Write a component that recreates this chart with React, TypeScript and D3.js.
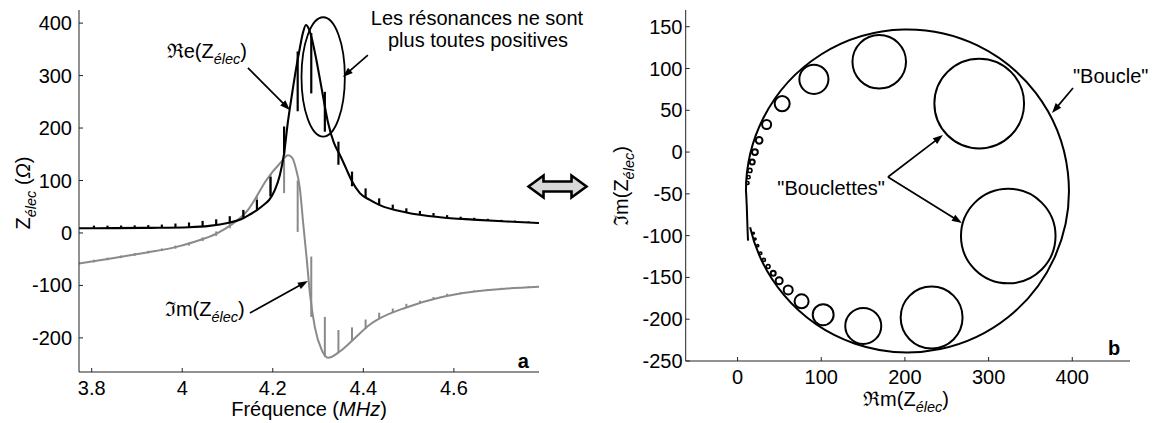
import React from "react";
import * as d3 from "d3";

// ---------- Panel a : impedance vs frequency ----------
const reFreq = [3.772, 3.85, 3.93, 4.015, 4.06, 4.103, 4.13, 4.147, 4.172, 4.2047, 4.2157, 4.2245, 4.2334, 4.2422, 4.251, 4.2598, 4.2665, 4.2731, 4.2797, 4.2863, 4.2951, 4.3084, 4.3216, 4.3349, 4.3481, 4.3614, 4.3746, 4.3923, 4.4143, 4.4364, 4.495, 4.569, 4.642, 4.716, 4.788];
const reValue = [9, 9.3, 9.8, 11, 13.5, 19.6, 26, 34, 48, 82, 110.6, 148.7, 211.6, 263, 311, 352.7, 381, 396.5, 389, 370, 335, 273, 212, 172, 149, 124, 99, 76, 63, 53, 39, 30, 25.5, 22, 19];

const imFreq = [3.772, 3.846, 3.919, 3.985, 4.044, 4.077, 4.107, 4.147, 4.157, 4.186, 4.216, 4.234, 4.243, 4.251, 4.2598, 4.267, 4.275, 4.282, 4.293, 4.308, 4.322, 4.348, 4.377, 4.414, 4.436, 4.495, 4.569, 4.642, 4.716, 4.788];
const imValue = [-58, -48, -37.5, -27, -12, -0.6, 15, 46, 59, 101, 133, 148, 143, 123, 85, 20, -50, -115, -180, -223, -238, -226, -204, -175, -163, -142, -123, -112, -106, -102.5];

// spurious resonances (narrow spikes)
const spikeFreq = [3.805, 3.835, 3.865, 3.895, 3.925, 3.955, 3.985, 4.015, 4.045, 4.075, 4.105, 4.135, 4.165, 4.195, 4.225, 4.255, 4.285, 4.315, 4.345, 4.375, 4.405, 4.435, 4.465, 4.495, 4.525, 4.555, 4.585, 4.615, 4.645, 4.675, 4.705, 4.735, 4.765];
const reSpikeLo = [9, 9, 9.2, 9.5, 9.6, 10, 10.3, 11, 12.3, 14.5, 19.5, 29, 44, 70, 148, 232, 266, 193, 130, 89, 68, 53, 46, 40, 36, 32.5, 29.5, 27.5, 25.5, 24, 22.5, 21, 20];
const reSpikeHi = [14, 14, 14.2, 14.5, 15, 16, 18, 20, 23, 26, 32, 44, 63, 107, 203, 346, 381, 269, 174, 117, 85, 66, 54, 47, 42, 38, 34, 31, 29, 27, 25, 23.5, 22];
const imSpikeLo = [-56, -52, -48, -43.5, -39, -34.5, -30, -24, -15.5, -5.5, 9, 29, 52, 69, 76, 2, -160, -236, -228, -206, -183, -164, -152, -142, -134, -127, -120, -116, -112, -109, -106.5, -104.5, -103];
const imSpikeHi = [-51, -47, -43, -38.5, -34, -29.5, -24, -18, -8.5, 3, 20, 42, 72, 112, 140, 100, -45, -160, -185, -180, -165, -152, -144, -135, -129, -122, -116, -113, -109.5, -107, -104.5, -103, -101.5];

const xTicksA = [3.8, 4, 4.2, 4.4, 4.6];
const xTickLabelsA = ["3.8", "4", "4.2", "4.4", "4.6"];
const yTicksA = [-200, -100, 0, 100, 200, 300, 400];

// ---------- Panel b : Nyquist plot ----------
const loopCenter = [203, -46.5];
const loopRadius = 193;
const loopStartDeg = 180;
const loopEndDeg = -167;
const loopTailRe = [12.5, 12, 11.5, 11, 10.3];
const loopTailIm = [-106, -95, -80, -65, -50];

const loopletRe = [169.3, 91.2, 53.3, 34.7, 25.8, 20.7, 17.5, 14.7, 13, 12, 288.8, 323.5, 231.9, 150.2, 102.3, 76.5, 60.5, 49.7, 42.6, 36.5, 31.5, 27.5, 24, 21, 19];
const loopletIm = [108, 87, 58, 33, 14, 0, -12, -22, -30, -37, 58, -100.5, -198, -208, -194.6, -178.6, -165, -154, -145, -137, -129, -121, -112, -104, -97];
const loopletR = [32, 17.4, 9, 5.4, 4, 3.5, 3, 2.5, 2, 1.7, 53.6, 56.5, 37, 21.5, 12.5, 8.4, 5.4, 4.2, 3, 2.3, 1.8, 1.5, 1.3, 1.1, 1];

const xTicksB = [0, 100, 200, 300, 400];
const yTicksB = [-250, -200, -150, -100, -50, 0, 50, 100, 150];

const FONT = "'Liberation Sans', Arial, Helvetica, sans-serif";
const FS = 20;
const SUB = 14.5;

function Arrow({ x1, y1, x2, y2 }: { x1: number; y1: number; x2: number; y2: number }) {
  const dx = x2 - x1, dy = y2 - y1;
  const L = Math.hypot(dx, dy);
  const ux = dx / L, uy = dy / L;
  const hl = 10, hw = 3.6;
  const bx = x2 - ux * hl, by = y2 - uy * hl;
  const pts = [
    [x2, y2],
    [bx - uy * hw, by + ux * hw],
    [bx + uy * hw, by - ux * hw],
  ];
  return (
    <g>
      <line x1={x1} y1={y1} x2={bx + ux * 2} y2={by + uy * 2} stroke="#000" strokeWidth={1.7} />
      <polygon points={pts.map((p) => p.join(",")).join(" ")} fill="#000" />
    </g>
  );
}

function Zelec({ pre, post = ")" }: { pre: string; post?: string }) {
  return (
    <>
      <tspan>{pre}</tspan>
      <tspan fontStyle="italic" fontSize={SUB} dy={6}>élec</tspan>
      <tspan dy={-6}>{post}</tspan>
    </>
  );
}

export default function App() {
  // scales panel a
  const xA = d3.scaleLinear().domain([3.772, 4.788]).range([79, 539]);
  const yA = d3.scaleLinear().domain([-265, 425]).range([372, 10]);
  // scales panel b
  const xB = d3.scaleLinear().domain([-62, 469]).range([685.7, 1130]);
  const yB = d3.scaleLinear().domain([-250, 170]).range([361, 10]);

  const lineA = d3
    .line<[number, number]>()
    .x((d) => xA(d[0]))
    .y((d) => yA(d[1]))
    .curve(d3.curveMonotoneX);

  const reData = reFreq.map((f, i) => [f, reValue[i]] as [number, number]);
  const imData = imFreq.map((f, i) => [f, imValue[i]] as [number, number]);

  // Nyquist main loop
  const p = d3.path();
  loopTailRe.forEach((r, i) => {
    if (i === 0) p.moveTo(xB(r), yB(loopTailIm[i]));
    else p.lineTo(xB(r), yB(loopTailIm[i]));
  });
  const rPx = xB(loopRadius) - xB(0);
  p.arc(
    xB(loopCenter[0]),
    yB(loopCenter[1]),
    rPx,
    (-loopStartDeg * Math.PI) / 180,
    (-loopEndDeg * Math.PI) / 180,
    false
  );

  const axisCol = "#222";
  const grayCol = "#8a8a8a";

  return (
    <svg
      width={1156}
      height={423}
      style={{ position: "absolute", left: 0, top: 0, background: "#fff" }}
      fontFamily={FONT}
    >
      <rect width={1156} height={423} fill="#fff" />

      {/* ---------------- Panel a ---------------- */}
      <path d={lineA(imData) || ""} fill="none" stroke={grayCol} strokeWidth={2} />
      {spikeFreq.map((f, i) => (
        <line key={"is" + i} x1={xA(f)} x2={xA(f)} y1={yA(imSpikeLo[i])} y2={yA(imSpikeHi[i])} stroke={grayCol} strokeWidth={2} />
      ))}
      <path d={lineA(reData) || ""} fill="none" stroke="#000" strokeWidth={2.1} />
      {spikeFreq.map((f, i) => (
        <line key={"rs" + i} x1={xA(f)} x2={xA(f)} y1={yA(reSpikeLo[i])} y2={yA(reSpikeHi[i])} stroke="#000" strokeWidth={2.2} />
      ))}

      {/* axes a */}
      <line x1={xA.range()[0]} x2={xA.range()[0]} y1={yA.range()[1]} y2={yA.range()[0]} stroke={axisCol} strokeWidth={1} />
      <line x1={xA.range()[0]} x2={xA.range()[1]} y1={yA.range()[0]} y2={yA.range()[0]} stroke={axisCol} strokeWidth={1} />
      {xTicksA.map((t, i) => (
        <g key={"xa" + i}>
          <line x1={xA(t)} x2={xA(t)} y1={yA.range()[0]} y2={yA.range()[0] - 4} stroke={axisCol} />
          <text x={xA(t)} y={395} fontSize={FS} textAnchor="middle">{xTickLabelsA[i]}</text>
        </g>
      ))}
      {yTicksA.map((t) => (
        <g key={"ya" + t}>
          <line x1={xA.range()[0]} x2={xA.range()[0] + 4} y1={yA(t)} y2={yA(t)} stroke={axisCol} />
          <text x={72} y={yA(t) + 7} fontSize={FS} textAnchor="end">{t}</text>
        </g>
      ))}
      <text x={309} y={416} fontSize={FS} textAnchor="middle">
        Fréquence (<tspan fontStyle="italic">MHz</tspan>)
      </text>
      <text transform="translate(30,193) rotate(-90)" fontSize={FS} textAnchor="middle">
        <tspan>Z</tspan>
        <tspan fontStyle="italic" fontSize={SUB} dy={6}>élec</tspan>
        <tspan dy={-6}> (</tspan>
        <tspan fontStyle="italic">Ω</tspan>
        <tspan>)</tspan>
      </text>
      <text x={xA(4.741)} y={yA(-257)} fontSize={FS} fontWeight="bold">a</text>

      {/* annotations a */}
      <text x={xA(3.9656)} y={yA(333)} fontSize={FS}>
        <Zelec pre="ℜe(Z" />
      </text>
      <Arrow x1={xA(4.1451)} y1={yA(314.5)} x2={xA(4.2378)} y2={yA(234.5)} />
      <text x={xA(3.9618)} y={yA(-159)} fontSize={FS}>
        <Zelec pre="ℑm(Z" />
      </text>
      <Arrow x1={xA(4.1495)} y1={yA(-152.5)} x2={xA(4.2775)} y2={yA(-91.5)} />
      <ellipse
        cx={xA(4.3113)}
        cy={yA(297.4)}
        rx={xA(4.3113 + 0.0479) - xA(4.3113)}
        ry={yA(297.4 - 113.8) - yA(297.4)}
        fill="none"
        stroke="#000"
        strokeWidth={1.8}
      />
      <Arrow x1={xA(4.41)} y1={yA(339)} x2={xA(4.3548)} y2={yA(297.4)} />
      <text x={477} y={25} fontSize={FS} textAnchor="middle">Les résonances ne sont</text>
      <text x={478} y={47} fontSize={FS} textAnchor="middle">plus toutes positives</text>

      {/* double arrow */}
      <polygon
        points="528.5,186.5 543.5,175.5 543.5,181.5 571.5,181.5 571.5,175.5 586.5,186.5 571.5,197.5 571.5,191.5 543.5,191.5 543.5,197.5"
        fill="#d9d9d9"
        stroke="#000"
        strokeWidth={2.6}
        strokeLinejoin="miter"
      />

      {/* ---------------- Panel b ---------------- */}
      <path d={p.toString()} fill="none" stroke="#000" strokeWidth={2} />
      {loopletRe.map((r, i) => (
        <circle
          key={"lc" + i}
          cx={xB(r)}
          cy={yB(loopletIm[i])}
          r={xB(loopletR[i]) - xB(0)}
          fill="none"
          stroke="#000"
          strokeWidth={loopletR[i] < 3 ? 1.6 : 2}
        />
      ))}

      {/* axes b */}
      <line x1={xB.range()[0]} x2={xB.range()[0]} y1={yB.range()[1]} y2={yB.range()[0]} stroke={axisCol} strokeWidth={1} />
      <line x1={xB.range()[0]} x2={xB.range()[1]} y1={yB.range()[0]} y2={yB.range()[0]} stroke={axisCol} strokeWidth={1} />
      {xTicksB.map((t) => (
        <g key={"xb" + t}>
          <line x1={xB(t)} x2={xB(t)} y1={yB.range()[0]} y2={yB.range()[0] - 4} stroke={axisCol} />
          <text x={xB(t)} y={383.5} fontSize={FS} textAnchor="middle">{t}</text>
        </g>
      ))}
      {yTicksB.map((t) => (
        <g key={"yb" + t}>
          <line x1={xB.range()[0]} x2={xB.range()[0] + 4} y1={yB(t)} y2={yB(t)} stroke={axisCol} />
          <text x={682.5} y={yB(t) + 7} fontSize={FS} textAnchor="end">{t}</text>
        </g>
      ))}
      <text x={906} y={406} fontSize={FS} textAnchor="middle">
        <Zelec pre="ℜm(Z" />
      </text>
      <text transform="translate(628,186) rotate(-90)" fontSize={FS} textAnchor="middle">
        <Zelec pre="ℑm(Z" />
      </text>
      <text x={xB(442.8)} y={yB(-243)} fontSize={FS} fontWeight="bold">b</text>

      {/* annotations b */}
      <text x={xB(400.9)} y={yB(82.6)} fontSize={FS}>"Boucle"</text>
      <Arrow x1={xB(400.9)} y1={yB(76.6)} x2={xB(375.8)} y2={yB(46.7)} />
      <text x={xB(176.1)} y={yB(-51.5)} fontSize={FS} textAnchor="end">"Bouclettes"</text>
      <Arrow x1={xB(179.7)} y1={yB(-29.8)} x2={xB(245.4)} y2={yB(20.4)} />
      <Arrow x1={xB(179.7)} y1={yB(-29.8)} x2={xB(268.1)} y2={yB(-84.9)} />
    </svg>
  );
}
